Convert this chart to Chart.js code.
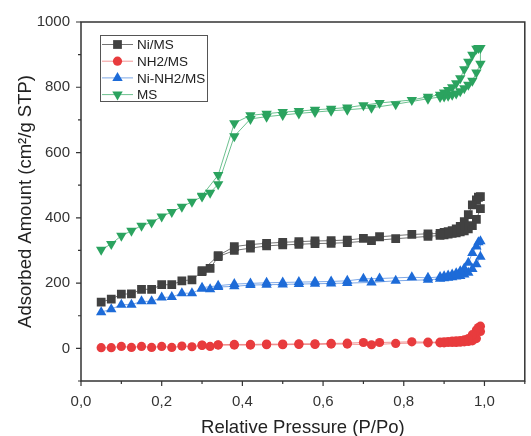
<!DOCTYPE html>
<html lang="en">
<head>
<meta charset="utf-8">
<title>N2 isotherms</title>
<script src="https://cdn.jsdelivr.net/npm/chart.js@4.4.1/dist/chart.umd.min.js"></script>
<style>
  html, body { margin: 0; padding: 0; background: #fff; overflow: hidden; }
</style>
</head>
<body>
<canvas id="iso" width="531" height="436"></canvas>
<script>
// relative pressure of the adsorption and desorption branches
var adsP = [0.05, 0.075, 0.1, 0.125, 0.15, 0.175, 0.2, 0.225, 0.25, 0.275, 0.3, 0.32, 0.34, 0.38, 0.42, 0.46, 0.5, 0.54, 0.58, 0.62, 0.66, 0.72, 0.78, 0.86, 0.89, 0.9, 0.91, 0.92, 0.93, 0.94, 0.95, 0.96, 0.97, 0.98, 0.99];
var desP = [0.99, 0.985, 0.98, 0.97, 0.96, 0.95, 0.94, 0.93, 0.92, 0.91, 0.9, 0.89, 0.86, 0.82, 0.74, 0.7, 0.66, 0.62, 0.58, 0.54, 0.5, 0.46, 0.42, 0.38, 0.34, 0.3];

var niMsAds = [142, 151, 166, 167, 181, 181, 195, 195, 207, 210, 235, 245, 281, 300, 307, 314, 317, 319, 321, 322, 324, 330, 336, 343, 346, 348, 350, 352, 354, 357, 360, 366, 376, 395, 428];
var niMsDes = [465, 463, 455, 440, 410, 388, 374, 366, 361, 358, 355, 352, 351, 349, 342, 337, 332, 330, 329, 327, 325, 322, 318, 312, 284, 238];

var nh2MsAds = [2, 2, 6, 3, 6, 3, 6, 3, 7, 5, 9, 6, 10, 10, 10, 11, 11, 12, 12, 13, 13, 11, 15, 17, 17, 17, 18, 18, 18, 19, 20, 21, 23, 30, 52];
var nh2MsDes = [68, 64, 56, 42, 30, 26, 24, 23, 22, 21, 20, 19, 19, 20, 18, 18, 16, 15, 14, 14, 13, 13, 12, 12, 11, 10];

var niNh2MsAds = [111, 120, 134, 134, 144, 144, 156, 157, 169, 169, 183, 181, 188, 190, 194, 195, 196, 197, 198, 199, 200, 202, 207, 210, 213, 215, 216, 218, 220, 222, 226, 232, 243, 258, 281];
var niNh2MsDes = [328, 325, 312, 292, 262, 245, 236, 230, 226, 223, 221, 219, 216, 218, 214, 213, 207, 205, 204, 203, 202, 201, 199, 197, 192, 186];

var msAds = [302, 320, 345, 360, 376, 386, 404, 418, 434, 449, 465, 477, 503, 650, 703, 710, 715, 720, 724, 728, 731, 737, 748, 765, 770, 772, 774, 777, 781, 788, 797, 808, 820, 845, 872];
var msDes = [920, 920, 918, 900, 878, 855, 828, 812, 800, 792, 784, 777, 771, 761, 752, 745, 738, 734, 731, 727, 724, 719, 714, 690, 531, 468];

var seriesNames = ['Ni/MS', 'NH2/MS', 'Ni-NH2/MS', 'MS'];

var xMajor = [0, 0.2, 0.4, 0.6, 0.8, 1.0];
var xMinor = [0.1, 0.3, 0.5, 0.7, 0.9, 1.1];
var yMajor = [0, 200, 400, 600, 800, 1000];
var yMinor = [-100, 100, 300, 500, 700, 900];

function isotherm(ads, des) {
  var pts = [];
  for (var i = 0; i < adsP.length; i++) pts.push({x: adsP[i], y: ads[i]});
  for (var j = 0; j < desP.length; j++) pts.push({x: desP[j], y: des[j]});
  return pts;
}

function makeSet(label, ads, des, color, line, style, rot, r) {
  return {
    label: label,
    data: isotherm(ads, des),
    borderColor: line,
    borderWidth: 1,
    backgroundColor: color,
    pointBackgroundColor: color,
    pointBorderColor: color,
    pointBorderWidth: 0,
    pointStyle: style,
    pointRotation: rot,
    pointRadius: r,
    pointHoverRadius: r,
    tension: 0,
    fill: false
  };
}

var datasets = [
  makeSet(seriesNames[0], niMsAds, niMsDes, '#414141', 'rgba(70,70,70,0.75)', 'rect', 0, 6.2),
  makeSet(seriesNames[1], nh2MsAds, nh2MsDes, '#e83b3d', 'rgba(232,80,80,0.6)', 'circle', 0, 4.6),
  makeSet(seriesNames[2], niNh2MsAds, niNh2MsDes, '#1d6bd8', 'rgba(40,110,215,0.6)', 'triangle', 0, 6),
  makeSet(seriesNames[3], msAds, msDes, '#2ba35f', 'rgba(45,165,95,0.7)', 'triangle', 180, 6)
];

var AXIS = '#333333';

// frame, tick marks, legend box
var decor = {
  id: 'decor',
  afterDatasetsDraw: function(chart) {
    var ctx = chart.ctx, a = chart.chartArea;
    var xs = chart.scales.x, ys = chart.scales.y;
    ctx.save();
    ctx.strokeStyle = AXIS;
    ctx.lineWidth = 1.5;
    ctx.strokeRect(a.left, a.top, a.right - a.left, a.bottom - a.top);
    ctx.lineWidth = 1.2;
    ctx.beginPath();
    xMajor.forEach(function(v) { var p = xs.getPixelForValue(v); ctx.moveTo(p, a.bottom); ctx.lineTo(p, a.bottom + 5); });
    xMinor.forEach(function(v) { var p = xs.getPixelForValue(v); ctx.moveTo(p, a.bottom); ctx.lineTo(p, a.bottom + 3); });
    yMajor.forEach(function(v) { var p = ys.getPixelForValue(v); ctx.moveTo(a.left, p); ctx.lineTo(a.left - 5, p); });
    yMinor.forEach(function(v) { var p = ys.getPixelForValue(v); ctx.moveTo(a.left, p); ctx.lineTo(a.left - 3, p); });
    ctx.stroke();

    // legend
    ctx.lineWidth = 1;
    ctx.strokeStyle = '#555';
    ctx.fillStyle = '#fff';
    ctx.fillRect(100.5, 35.5, 107, 66);
    ctx.strokeRect(100.5, 35.5, 107, 66);
    ctx.font = '13.5px "Liberation Sans", Arial, sans-serif';
    ctx.textBaseline = 'middle';
    chart.data.datasets.forEach(function(ds, i) {
      var y = 44.5 + i * 16.7;
      ctx.strokeStyle = ds.borderColor;
      ctx.lineWidth = 1;
      ctx.beginPath();
      ctx.moveTo(102, y);
      ctx.lineTo(133, y);
      ctx.stroke();
      ctx.fillStyle = ds.pointBackgroundColor;
      ctx.strokeStyle = ds.pointBackgroundColor;
      Chart.helpers.drawPoint(ctx, {pointStyle: ds.pointStyle, rotation: ds.pointRotation, radius: ds.pointRadius, borderWidth: 0}, 117.5, y);
      ctx.fillStyle = '#222';
      ctx.fillText(ds.label, 137, y + 1);
    });
    ctx.restore();
  }
};

new Chart(document.getElementById('iso'), {
  type: 'line',
  data: { datasets: datasets },
  plugins: [decor],
  options: {
    responsive: false,
    animation: false,
    events: [],
    layout: { padding: { top: 22, right: 5, left: 0, bottom: 0 } },
    plugins: { legend: { display: false }, tooltip: { enabled: false } },
    scales: {
      x: {
        type: 'linear',
        min: 0,
        max: 1.1,
        grid: { display: false, drawTicks: false },
        border: { display: false },
        afterBuildTicks: function(s) { s.ticks = xMajor.map(function(v) { return {value: v}; }); },
        afterFit: function(s) { s.height = 55; },
        ticks: {
          padding: 12,
          color: '#333',
          font: { family: '"Liberation Sans", Arial, sans-serif', size: 15 },
          callback: function(v) { return Number(v).toFixed(1).replace('.', ','); }
        },
        title: {
          display: true,
          text: 'Relative Pressure (P/Po)',
          color: '#222',
          font: { family: '"Liberation Sans", Arial, sans-serif', size: 18.5, lineHeight: 0.9 },
          padding: { top: 0, bottom: 0 }
        }
      },
      y: {
        type: 'linear',
        min: -100,
        max: 1000,
        grid: { display: false, drawTicks: false },
        border: { display: false },
        afterBuildTicks: function(s) { s.ticks = yMajor.map(function(v) { return {value: v}; }); },
        afterFit: function(s) { s.width = 81; },
        ticks: {
          padding: 11,
          color: '#333',
          font: { family: '"Liberation Sans", Arial, sans-serif', size: 15 },
          callback: function(v) { return String(v); }
        },
        title: {
          display: true,
          text: 'Adsorbed Amount (cm\u00b2/g STP)',
          color: '#222',
          font: { family: '"Liberation Sans", Arial, sans-serif', size: 18.5, lineHeight: 1.2 },
          padding: { top: 15, bottom: 0 }
        }
      }
    }
  }
});
</script>
</body>
</html>
